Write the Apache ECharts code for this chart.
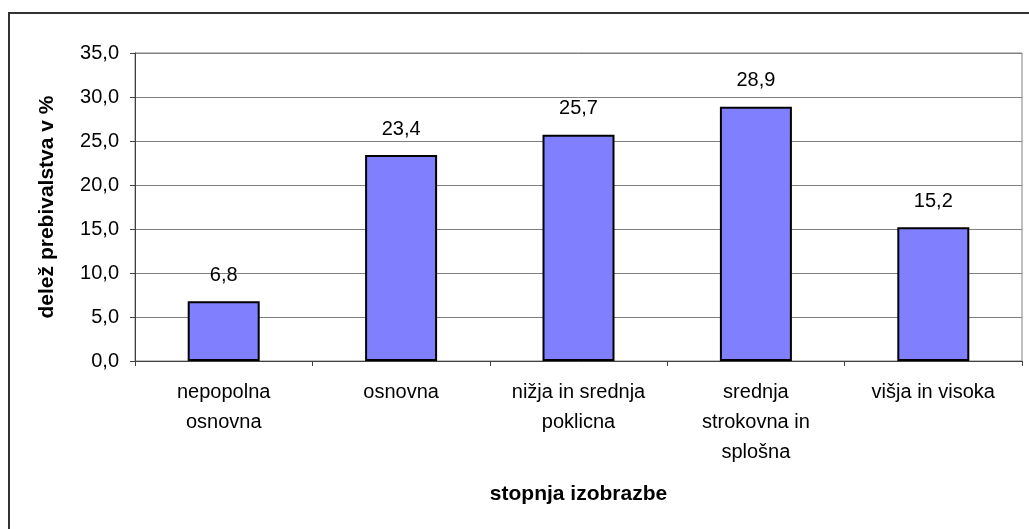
<!DOCTYPE html>
<html>
<head>
<meta charset="utf-8">
<script src="https://cdn.jsdelivr.net/npm/echarts@6/dist/echarts.min.js"></script>
<style>
  html, body { margin: 0; padding: 0; background: #fff; }
  #chart { width: 1029px; height: 529px; }
</style>
</head>
<body>
<div id="chart"></div>
<script>
  // stopnja izobrazbe
  var categories = [
    'nepopolna\nosnovna',
    'osnovna',
    'nižja in srednja\npoklicna',
    'srednja\nstrokovna in\nsplošna',
    'višja in visoka'
  ];
  // delež prebivalstva v %
  var shares = [6.8, 23.4, 25.7, 28.9, 15.2];
  var yTicks = [0, 5, 10, 15, 20, 25, 30, 35];

  function fmt(v) {
    return Number(v).toFixed(1).replace('.', ',');
  }

  var font = 'Liberation Sans, Arial, sans-serif';

  var option = {
    animation: false,
    backgroundColor: '#fff',
    textStyle: { fontFamily: font },
    graphic: [{
      type: 'rect',
      silent: true,
      shape: { x: 9, y: 13, width: 1100, height: 600 },
      style: { fill: 'none', stroke: '#333', lineWidth: 2 }
    }],
    grid: {
      left: 135,
      right: 7,
      top: 53,
      bottom: 168,
      show: true,
      borderColor: '#808080',
      borderWidth: 1
    },
    xAxis: {
      type: 'category',
      data: categories,
      name: 'stopnja izobrazbe',
      nameLocation: 'middle',
      nameGap: 123,
      nameTextStyle: { fontFamily: font, fontSize: 21, fontWeight: 'bold', color: '#000' },
      axisLine: { lineStyle: { color: '#404040', width: 1 } },
      axisTick: { show: true, length: 5, inside: false, lineStyle: { color: '#404040' } },
      axisLabel: {
        interval: 0,
        margin: 16,
        fontFamily: font,
        fontSize: 20,
        lineHeight: 30,
        color: '#000'
      }
    },
    yAxis: {
      type: 'value',
      min: yTicks[0],
      max: yTicks[yTicks.length - 1],
      interval: 5,
      name: 'delež prebivalstva v %',
      nameLocation: 'middle',
      nameGap: 77,
      nameTextStyle: { fontFamily: font, fontSize: 21, fontWeight: 'bold', color: '#000' },
      axisLine: { show: true, lineStyle: { color: '#404040', width: 1 } },
      axisTick: { show: true, length: 5, lineStyle: { color: '#404040' } },
      axisLabel: {
        margin: 16,
        fontFamily: font,
        fontSize: 20,
        color: '#000',
        formatter: fmt
      },
      splitLine: { show: true, lineStyle: { color: '#808080', width: 1 } }
    },
    series: [{
      type: 'bar',
      data: shares,
      barWidth: 72,
      itemStyle: { color: '#8080FF', borderColor: '#000', borderWidth: 2 },
      label: {
        show: true,
        position: 'top',
        distance: 16,
        fontFamily: font,
        fontSize: 20,
        color: '#000',
        formatter: function (p) { return fmt(p.value); }
      }
    }]
  };

  var myChart = echarts.init(document.getElementById('chart'));
  myChart.setOption(option);
</script>
</body>
</html>
